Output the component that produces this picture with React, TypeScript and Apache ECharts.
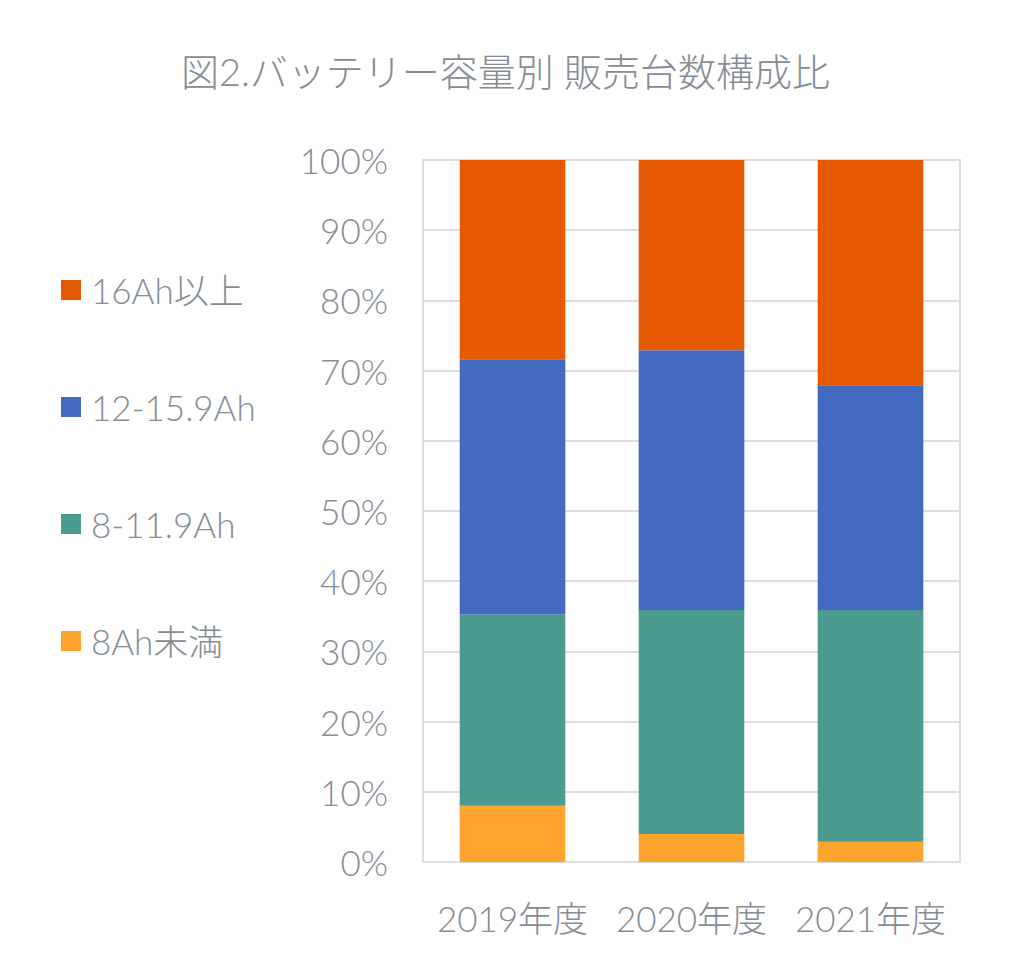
import { useEffect, useRef } from 'react'
import * as echarts from 'echarts'

const years = ['2019年度', '2020年度', '2021年度']
const seriesNames = ['8Ah未満', '8-11.9Ah', '12-15.9Ah', '16Ah以上']
const under8 = [8.0, 4.0, 2.9]
const from8to12 = [27.3, 31.9, 33.0]
const from12to16 = [36.3, 37.0, 32.0]
const over16 = [28.4, 27.1, 32.1]
const colors = ['#FFA42F', '#4A9A8F', '#4469C1', '#E55A00']

const textColor = '#858C94'
const font = "Lato, 'Noto Sans CJK JP', sans-serif"

export default function App() {
  const chartRef = useRef<HTMLDivElement>(null)

  useEffect(() => {
    document.body.style.margin = '0'
    if (!chartRef.current) return
    const chart = echarts.init(chartRef.current, undefined, { renderer: 'svg' })

    const values = [under8, from8to12, from12to16, over16]

    // legend is listed top-down: largest capacity first
    const legendTops = [618, 501, 384, 267]
    const legends = seriesNames.map((name, i) => ({
      data: [name],
      left: 56,
      top: legendTops[i],
      icon: 'rect',
      itemWidth: 20,
      itemHeight: 20,
      selectedMode: false,
      textStyle: {
        color: textColor,
        fontSize: 35,
        lineHeight: 36,
        fontWeight: 300,
        fontFamily: font,
        padding: [0, 0, 0, 5],
      },
    }))

    const option: echarts.EChartsOption = {
      animation: false,
      title: {
        text: '図2.バッテリー容量別 販売台数構成比',
        left: 'center',
        top: 47,
        textStyle: {
          color: textColor,
          fontSize: 38,
          fontWeight: 300,
          fontFamily: font,
        },
      },
      legend: legends,
      grid: {
        left: 423,
        right: 51,
        top: 160,
        bottom: 116,
        show: true,
        borderColor: '#DEDEDE',
        borderWidth: 2,
      },
      xAxis: {
        type: 'category',
        data: years,
        axisLine: { show: true, lineStyle: { color: '#DEDEDE', width: 2 } },
        axisTick: { show: false },
        axisLabel: {
          interval: 0,
          color: textColor,
          fontSize: 35,
          fontWeight: 300,
          fontFamily: font,
          margin: 38,
        },
      },
      yAxis: {
        type: 'value',
        min: 0,
        max: 100,
        interval: 10,
        axisLine: { show: false },
        axisTick: { show: false },
        splitLine: { lineStyle: { color: '#DEDEDE', width: 2 } },
        axisLabel: {
          formatter: '{value}%',
          color: textColor,
          fontSize: 35,
          fontWeight: 300,
          fontFamily: font,
          margin: 35,
        },
      },
      series: seriesNames.map((name, i) => ({
        name,
        type: 'bar',
        stack: 'total',
        barWidth: '59%',
        data: values[i],
        itemStyle: { color: colors[i] },
      })),
    }

    chart.setOption(option)
    return () => {
      chart.dispose()
    }
  }, [])

  return <div ref={chartRef} style={{ width: '1011px', height: '978px' }} />
}
